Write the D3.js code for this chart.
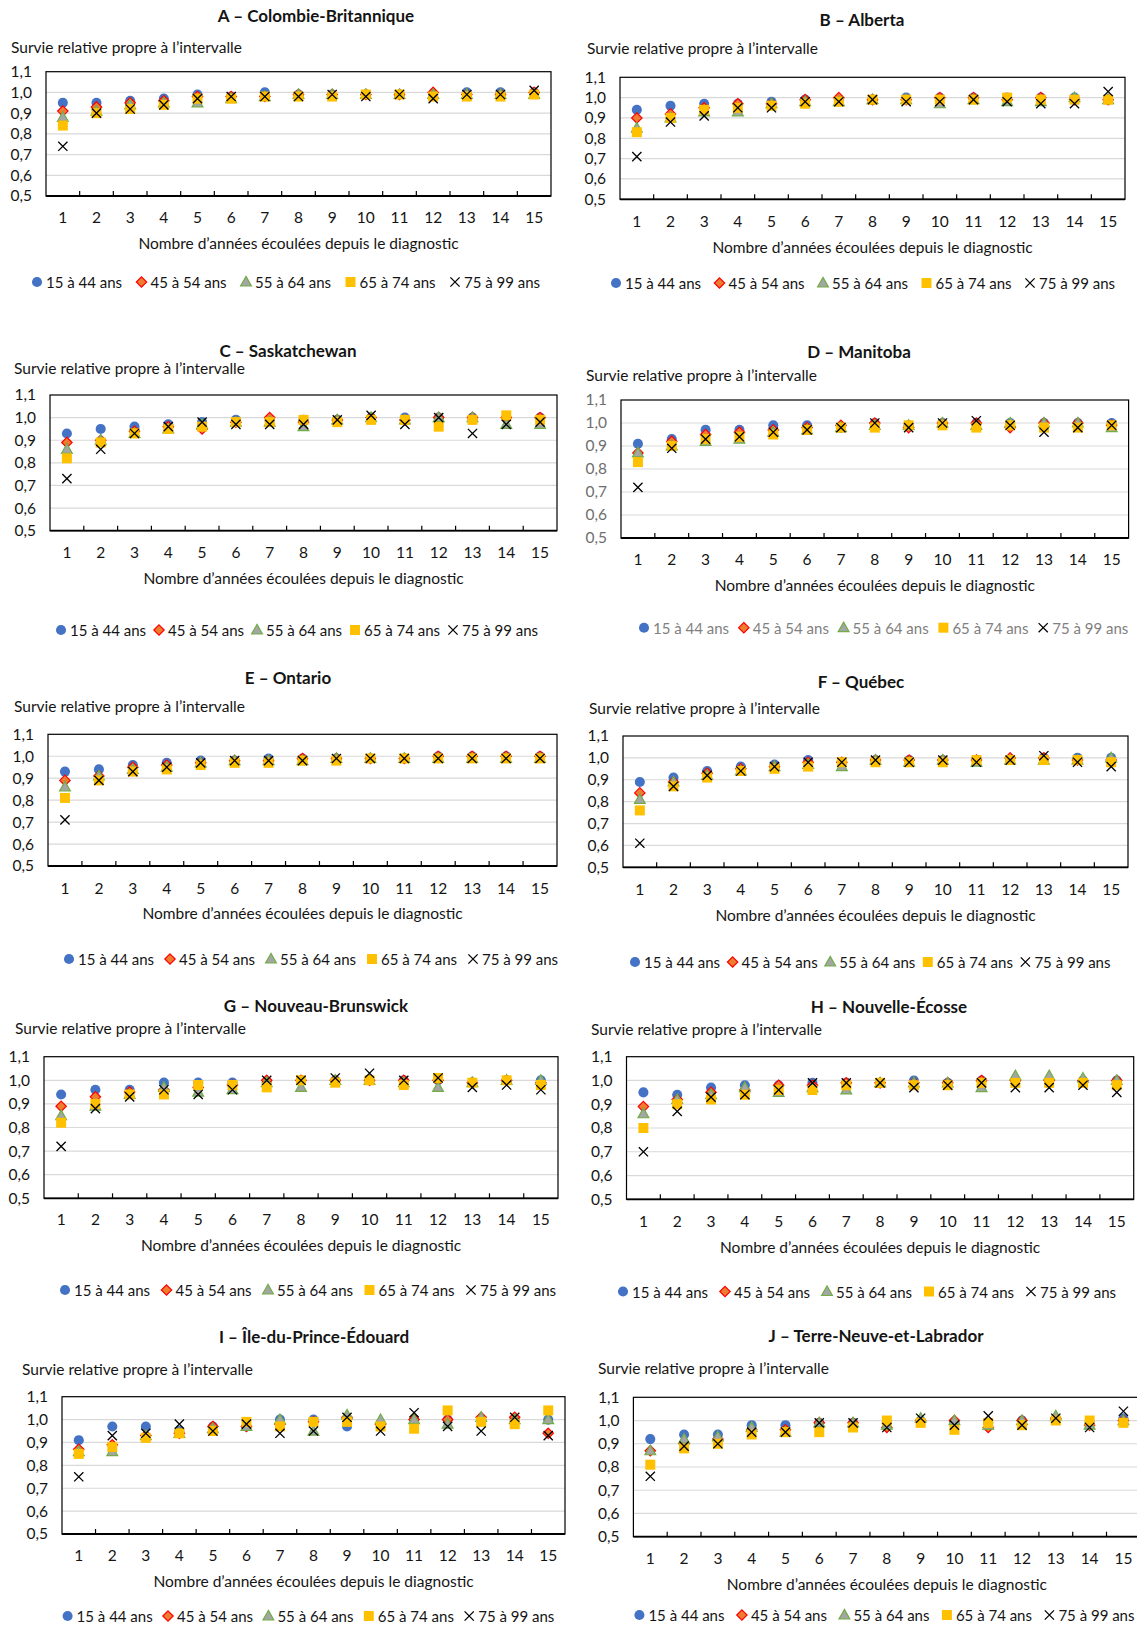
<!DOCTYPE html>
<html lang="fr">
<head>
<meta charset="utf-8">
<script src="https://cdn.jsdelivr.net/npm/d3@7"></script>
<style>
  html, body { margin: 0; padding: 0; background: #fff; }
  svg { display: block; font-family: Lato, "Open Sans", sans-serif; }
</style>
</head>
<body>
<svg id="chart" width="1137" height="1625"></svg>
<script>
// Years since diagnosis (x categories)
const years = [1, 2, 3, 4, 5, 6, 7, 8, 9, 10, 11, 12, 13, 14, 15];

// Age groups (series), in drawing order
const ageGroups = ["15 à 44 ans", "45 à 54 ans", "55 à 64 ans", "65 à 74 ans", "75 à 99 ans"];

// Y axis ticks and their labels
const yTicks = [0.5, 0.6, 0.7, 0.8, 0.9, 1.0, 1.1];
const yTickLabels = ["0,5", "0,6", "0,7", "0,8", "0,9", "1,0", "1,1"];

const yAxisTitle = "Survie relative propre à l’intervalle";
const xAxisTitle = "Nombre d’années écoulées depuis le diagnostic";

// Interval-specific relative survival, one row per age group
const colombieBritannique = [
  [0.95, 0.95, 0.96, 0.97, 0.99, 0.98, 1.00, 0.99, 0.99, 0.99, 0.99, 0.99, 1.00, 1.00, 1.00],
  [0.91, 0.93, 0.95, 0.96, 0.98, 0.98, 0.98, 0.99, 0.99, 0.99, 0.99, 1.00, 0.99, 0.99, 1.00],
  [0.88, 0.91, 0.94, 0.95, 0.95, 0.97, 0.98, 0.99, 0.99, 0.99, 0.99, 0.99, 0.99, 0.99, 0.99],
  [0.84, 0.90, 0.92, 0.94, 0.97, 0.97, 0.98, 0.98, 0.98, 0.99, 0.99, 0.98, 0.98, 0.98, 0.99],
  [0.74, 0.90, 0.92, 0.94, 0.97, 0.98, 0.98, 0.98, 0.99, 0.98, 0.99, 0.97, 0.99, 0.99, 1.01]
];
const alberta = [
  [0.94, 0.96, 0.97, 0.97, 0.98, 0.99, 0.99, 0.99, 1.00, 1.00, 1.00, 1.00, 1.00, 1.00, 0.99],
  [0.90, 0.92, 0.95, 0.97, 0.97, 0.99, 1.00, 0.99, 0.99, 1.00, 1.00, 0.99, 1.00, 0.99, 0.99],
  [0.85, 0.90, 0.93, 0.93, 0.97, 0.98, 0.98, 0.99, 0.99, 0.97, 0.99, 0.98, 0.98, 1.00, 0.99],
  [0.83, 0.90, 0.94, 0.95, 0.96, 0.97, 0.98, 0.99, 0.99, 0.99, 0.99, 1.00, 0.99, 0.99, 0.99],
  [0.71, 0.88, 0.91, 0.95, 0.95, 0.98, 0.98, 0.99, 0.98, 0.98, 0.99, 0.98, 0.97, 0.97, 1.03]
];
const saskatchewan = [
  [0.93, 0.95, 0.96, 0.97, 0.98, 0.99, 0.99, 0.99, 0.99, 1.00, 1.00, 1.00, 1.00, 1.00, 1.00],
  [0.89, 0.90, 0.94, 0.96, 0.95, 0.98, 1.00, 0.98, 0.99, 1.00, 0.99, 1.00, 1.00, 1.00, 1.00],
  [0.86, 0.90, 0.93, 0.95, 0.97, 0.98, 0.98, 0.96, 0.99, 1.00, 0.99, 1.00, 1.00, 0.97, 0.97],
  [0.82, 0.89, 0.93, 0.95, 0.96, 0.98, 0.98, 0.99, 0.98, 0.99, 0.99, 0.96, 0.99, 1.01, 0.99],
  [0.73, 0.86, 0.93, 0.96, 0.98, 0.97, 0.97, 0.97, 0.99, 1.01, 0.97, 1.00, 0.93, 0.97, 0.98]
];
const manitoba = [
  [0.91, 0.93, 0.97, 0.97, 0.99, 0.99, 0.98, 1.00, 0.99, 1.00, 1.00, 1.00, 1.00, 1.00, 1.00],
  [0.87, 0.92, 0.95, 0.96, 0.97, 0.98, 0.99, 1.00, 0.98, 1.00, 1.00, 0.98, 1.00, 1.00, 0.99],
  [0.87, 0.90, 0.92, 0.93, 0.96, 0.97, 0.98, 0.99, 0.99, 1.00, 0.99, 1.00, 1.00, 1.00, 0.98],
  [0.83, 0.90, 0.93, 0.94, 0.95, 0.97, 0.98, 0.98, 0.99, 0.99, 0.98, 0.99, 0.98, 0.98, 0.99],
  [0.72, 0.89, 0.93, 0.94, 0.96, 0.97, 0.98, 1.00, 0.98, 1.00, 1.01, 0.99, 0.96, 0.98, 0.99]
];
const ontario = [
  [0.93, 0.94, 0.96, 0.97, 0.98, 0.98, 0.99, 0.99, 0.99, 0.99, 0.99, 1.00, 1.00, 1.00, 1.00],
  [0.89, 0.91, 0.95, 0.96, 0.97, 0.98, 0.98, 0.99, 0.99, 0.99, 0.99, 1.00, 1.00, 1.00, 1.00],
  [0.86, 0.91, 0.94, 0.95, 0.97, 0.98, 0.98, 0.98, 0.99, 0.99, 0.99, 0.99, 0.99, 0.99, 0.99],
  [0.81, 0.89, 0.93, 0.94, 0.96, 0.97, 0.97, 0.98, 0.98, 0.99, 0.99, 0.99, 0.99, 0.99, 0.99],
  [0.71, 0.89, 0.93, 0.95, 0.97, 0.98, 0.98, 0.98, 0.99, 0.99, 0.99, 0.99, 0.99, 0.99, 0.99]
];
const quebec = [
  [0.89, 0.91, 0.94, 0.96, 0.97, 0.99, 0.98, 0.99, 0.99, 0.99, 0.99, 0.99, 1.00, 1.00, 1.00],
  [0.84, 0.89, 0.93, 0.95, 0.96, 0.98, 0.98, 0.99, 0.99, 0.99, 0.99, 1.00, 1.00, 0.99, 0.99],
  [0.81, 0.89, 0.92, 0.94, 0.96, 0.97, 0.96, 0.99, 0.98, 0.99, 0.98, 0.99, 0.99, 0.99, 1.00],
  [0.76, 0.87, 0.91, 0.94, 0.95, 0.96, 0.98, 0.98, 0.98, 0.98, 0.99, 0.99, 0.99, 0.99, 0.98],
  [0.61, 0.87, 0.92, 0.94, 0.96, 0.98, 0.98, 0.99, 0.98, 0.99, 0.98, 0.99, 1.01, 0.98, 0.96]
];
const nouveauBrunswick = [
  [0.94, 0.96, 0.96, 0.99, 0.99, 0.99, 0.99, 1.00, 1.00, 1.00, 1.00, 1.00, 0.99, 1.00, 1.00],
  [0.89, 0.93, 0.95, 0.96, 0.97, 0.98, 1.00, 1.00, 1.00, 1.00, 1.00, 1.00, 0.99, 1.00, 0.99],
  [0.85, 0.89, 0.94, 0.97, 0.95, 0.96, 0.99, 0.97, 1.00, 1.00, 0.99, 0.97, 0.99, 1.00, 1.00],
  [0.82, 0.90, 0.94, 0.94, 0.98, 0.98, 0.97, 1.00, 0.99, 1.00, 0.98, 1.01, 0.99, 1.00, 0.98],
  [0.72, 0.88, 0.93, 0.96, 0.94, 0.96, 1.00, 1.00, 1.01, 1.03, 1.00, 1.01, 0.97, 0.98, 0.96]
];
const nouvelleEcosse = [
  [0.95, 0.94, 0.97, 0.98, 0.98, 0.99, 0.99, 0.99, 1.00, 0.99, 1.00, 1.00, 1.00, 1.00, 1.00],
  [0.89, 0.92, 0.95, 0.96, 0.98, 0.98, 0.99, 0.99, 0.99, 0.99, 1.00, 1.00, 1.00, 1.00, 1.00],
  [0.86, 0.92, 0.94, 0.97, 0.95, 0.97, 0.96, 0.99, 0.99, 0.99, 0.97, 1.02, 1.02, 1.01, 1.00],
  [0.80, 0.90, 0.92, 0.94, 0.96, 0.96, 0.98, 0.99, 0.98, 0.98, 0.99, 0.99, 0.99, 0.99, 0.98],
  [0.70, 0.87, 0.93, 0.94, 0.96, 0.99, 0.99, 0.99, 0.97, 0.98, 0.99, 0.97, 0.97, 0.98, 0.95]
];
const ilePrinceEdouard = [
  [0.91, 0.97, 0.97, 0.95, 0.97, 0.97, 1.00, 1.00, 0.97, 0.98, 1.00, 1.00, 1.00, 1.00, 1.00],
  [0.87, 0.89, 0.93, 0.94, 0.97, 0.97, 0.98, 0.99, 1.01, 0.98, 1.00, 1.00, 1.01, 1.01, 0.94],
  [0.86, 0.86, 0.93, 0.94, 0.96, 0.97, 1.00, 0.95, 1.02, 1.00, 1.00, 0.98, 1.01, 1.00, 1.00],
  [0.85, 0.88, 0.92, 0.94, 0.95, 0.99, 0.97, 0.99, 0.99, 0.97, 0.96, 1.04, 0.99, 0.98, 1.04],
  [0.75, 0.93, 0.94, 0.98, 0.95, 0.98, 0.94, 0.95, 1.01, 0.95, 1.03, 0.97, 0.95, 1.01, 0.93]
];
const terreNeuveLabrador = [
  [0.92, 0.94, 0.94, 0.98, 0.98, 0.99, 0.99, 0.99, 1.00, 0.99, 0.99, 1.00, 1.01, 0.99, 1.01],
  [0.87, 0.90, 0.92, 0.96, 0.96, 0.99, 0.99, 0.97, 1.00, 1.00, 0.97, 1.00, 1.01, 0.98, 1.00],
  [0.87, 0.92, 0.93, 0.97, 0.95, 0.99, 0.99, 0.98, 1.01, 1.00, 0.98, 1.00, 1.02, 0.98, 1.00],
  [0.81, 0.88, 0.90, 0.94, 0.95, 0.95, 0.97, 1.00, 0.99, 0.96, 0.99, 0.98, 1.00, 1.00, 0.99],
  [0.76, 0.89, 0.90, 0.95, 0.95, 0.99, 0.99, 0.97, 1.01, 0.98, 1.02, 0.98, 1.01, 0.97, 1.04]
];

// Panel titles paired with their data
const panelTitles = [
  "A – Colombie-Britannique", "B – Alberta", "C – Saskatchewan", "D – Manitoba",
  "E – Ontario", "F – Québec", "G – Nouveau-Brunswick", "H – Nouvelle-Écosse",
  "I – Île-du-Prince-Édouard", "J – Terre-Neuve-et-Labrador"
];
const panelData = [
  colombieBritannique, alberta, saskatchewan, manitoba, ontario,
  quebec, nouveauBrunswick, nouvelleEcosse, ilePrinceEdouard, terreNeuveLabrador
];

// Page geometry for each panel
const layout = [
  { tx: 316, ty: 15,    yx: 11,  yy: 47,    l: 46,  t: 71.7,  r: 551,  b: 196,    xl: 217,  xt: 243,  ly: 282,  lx: 37,  ls: 104.5 },
  { tx: 862, ty: 19,    yx: 587, yy: 47.7,  l: 620, t: 77.3,  r: 1125, b: 199.3,  xl: 221,  xt: 247,  ly: 283,  lx: 616, ls: 103.5 },
  { tx: 288, ty: 350.7, yx: 14,  yy: 368.3, l: 50,  t: 395,   r: 557,  b: 530.7,  xl: 552,  xt: 578,  ly: 630,  lx: 61,  ls: 98 },
  { tx: 859, ty: 351.7, yx: 586, yy: 375,   l: 621, t: 400,   r: 1128.6, b: 538,  xl: 559,  xt: 585,  ly: 627.7, lx: 644, ls: 99.8, muted: true },
  { tx: 288, ty: 677.7, yx: 14,  yy: 706,   l: 48,  t: 734.3, r: 557,  b: 866,    xl: 887.7, xt: 913.3, ly: 959, lx: 69,  ls: 101 },
  { tx: 861, ty: 681,   yx: 589, yy: 707.7, l: 623, t: 736,   r: 1128, b: 867.3,  xl: 889,  xt: 915,  ly: 962,  lx: 635, ls: 97.6 },
  { tx: 316, ty: 1005,  yx: 15,  yy: 1027.7, l: 44, t: 1056.7, r: 558, b: 1198.3, xl: 1219.3, xt: 1245, ly: 1290, lx: 65, ls: 101.5 },
  { tx: 889, ty: 1006.7, yx: 591, yy: 1029, l: 626.5, t: 1056.7, r: 1133.7, b: 1199.3, xl: 1221, xt: 1246.7, ly: 1291.5, lx: 623, ls: 102 },
  { tx: 314, ty: 1336,  yx: 22,  yy: 1369,  l: 62,  t: 1396.7, r: 565, b: 1534,   xl: 1555.3, xt: 1581, ly: 1616, lx: 67.6, ls: 100.4 },
  { tx: 876, ty: 1335.7, yx: 598, yy: 1368.3, l: 633.4, t: 1397.3, r: 1140.3, b: 1536.7, xl: 1558, xt: 1584, ly: 1615, lx: 639.4, ls: 102.5 }
];

// Marker styles per age group
const markerStyles = [
  { path: d3.symbol(d3.symbolCircle, 80)(), fill: "#4472C4", stroke: "none", sw: 0 },
  { path: "M0,-5.2L5.2,0L0,5.2L-5.2,0Z", fill: "#ED7D31", stroke: "#FF0000", sw: 1.2 },
  { path: "M0,-5.6L5.4,4L-5.4,4Z", fill: "#A5A5A5", stroke: "#70AD47", sw: 1.2 },
  { path: "M-5,-5H5V5H-5Z", fill: "#FFC000", stroke: "none", sw: 0 },
  { path: "M-4.6,-4.6L4.6,4.6M-4.6,4.6L4.6,-4.6", fill: "none", stroke: "#000", sw: 1.3 }
];

const svg = d3.select("#chart");
const textColor = "#141414";
const labelSize = 15.5;
const legendSize = 15;

function drawMarker(g, style, x, y) {
  g.append("path")
    .attr("d", style.path)
    .attr("transform", `translate(${x},${y})`)
    .attr("fill", style.fill)
    .attr("stroke", style.stroke)
    .attr("stroke-width", style.sw);
}

panelData.forEach((rows, p) => {
  const L = layout[p];
  const g = svg.append("g").attr("class", "panel");

  const x = d3.scaleBand().domain(years).range([L.l, L.r]).padding(0);
  const y = d3.scaleLinear().domain([0.5, 1.1]).range([L.b, L.t]);

  // Title
  g.append("text")
    .attr("x", L.tx).attr("y", L.ty)
    .attr("text-anchor", "middle").attr("dominant-baseline", "central")
    .attr("font-size", 17).attr("font-weight", 700).attr("fill", textColor)
    .text(panelTitles[p]);

  // Y axis title (horizontal, above the plot)
  g.append("text")
    .attr("x", L.yx).attr("y", L.yy)
    .attr("dominant-baseline", "central")
    .attr("font-size", labelSize).attr("fill", textColor)
    .text(yAxisTitle);

  // Gridlines
  g.append("g").selectAll("line")
    .data(yTicks.filter(v => v > 0.5 && v < 1.1))
    .join("line")
    .attr("x1", L.l).attr("x2", L.r)
    .attr("y1", d => y(d)).attr("y2", d => y(d))
    .attr("stroke", "#d9d9d9").attr("stroke-width", 1.2);

  // Y axis labels
  const yAxis = d3.axisLeft(y)
    .tickValues(yTicks)
    .tickFormat((d, i) => yTickLabels[i])
    .tickSize(0).tickPadding(14);
  const ya = g.append("g").attr("transform", `translate(${L.l},0)`).call(yAxis);
  ya.select(".domain").remove();
  ya.selectAll("text")
    .attr("font-size", labelSize).attr("font-family", "Lato, sans-serif")
    .attr("fill", L.muted ? "#6e6e6e" : textColor);

  // X axis labels
  const xAxis = d3.axisBottom(x).tickSize(0).tickPadding(0);
  const xa = g.append("g").attr("transform", `translate(0,${L.xl})`).call(xAxis);
  xa.select(".domain").remove();
  xa.selectAll("text")
    .attr("dy", null).attr("y", 0)
    .attr("dominant-baseline", "central")
    .attr("font-size", labelSize).attr("font-family", "Lato, sans-serif")
    .attr("fill", textColor);

  // Plot frame
  g.append("rect")
    .attr("x", L.l).attr("y", L.t)
    .attr("width", L.r - L.l).attr("height", L.b - L.t)
    .attr("fill", "none").attr("stroke", "#000").attr("stroke-width", 1.2);
  g.append("line")
    .attr("x1", L.l).attr("x2", L.r).attr("y1", L.b).attr("y2", L.b)
    .attr("stroke", "#000").attr("stroke-width", 1.8);

  // Category boundary tick marks
  g.append("g").selectAll("line")
    .data(years.slice(1))
    .join("line")
    .attr("x1", d => x(d)).attr("x2", d => x(d))
    .attr("y1", L.b).attr("y2", L.b - 5)
    .attr("stroke", "#000").attr("stroke-width", 1.2);

  // X axis title
  g.append("text")
    .attr("x", (L.l + L.r) / 2).attr("y", L.xt)
    .attr("text-anchor", "middle").attr("dominant-baseline", "central")
    .attr("font-size", labelSize).attr("fill", textColor)
    .text(xAxisTitle);

  // Markers
  rows.forEach((vals, s) => {
    const sg = g.append("g").attr("class", "series");
    vals.forEach((v, i) => {
      drawMarker(sg, markerStyles[s], x(years[i]) + x.bandwidth() / 2, y(v));
    });
  });

  // Legend
  const lg = g.append("g").attr("class", "legend");
  ageGroups.forEach((name, s) => {
    const cx = L.lx + s * L.ls;
    drawMarker(lg, markerStyles[s], cx, L.ly);
    lg.append("text")
      .attr("x", cx + 9).attr("y", L.ly)
      .attr("dominant-baseline", "central")
      .attr("font-size", legendSize)
      .attr("fill", L.muted ? "#7f7f7f" : textColor)
      .text(name);
  });
});
</script>
</body>
</html>
